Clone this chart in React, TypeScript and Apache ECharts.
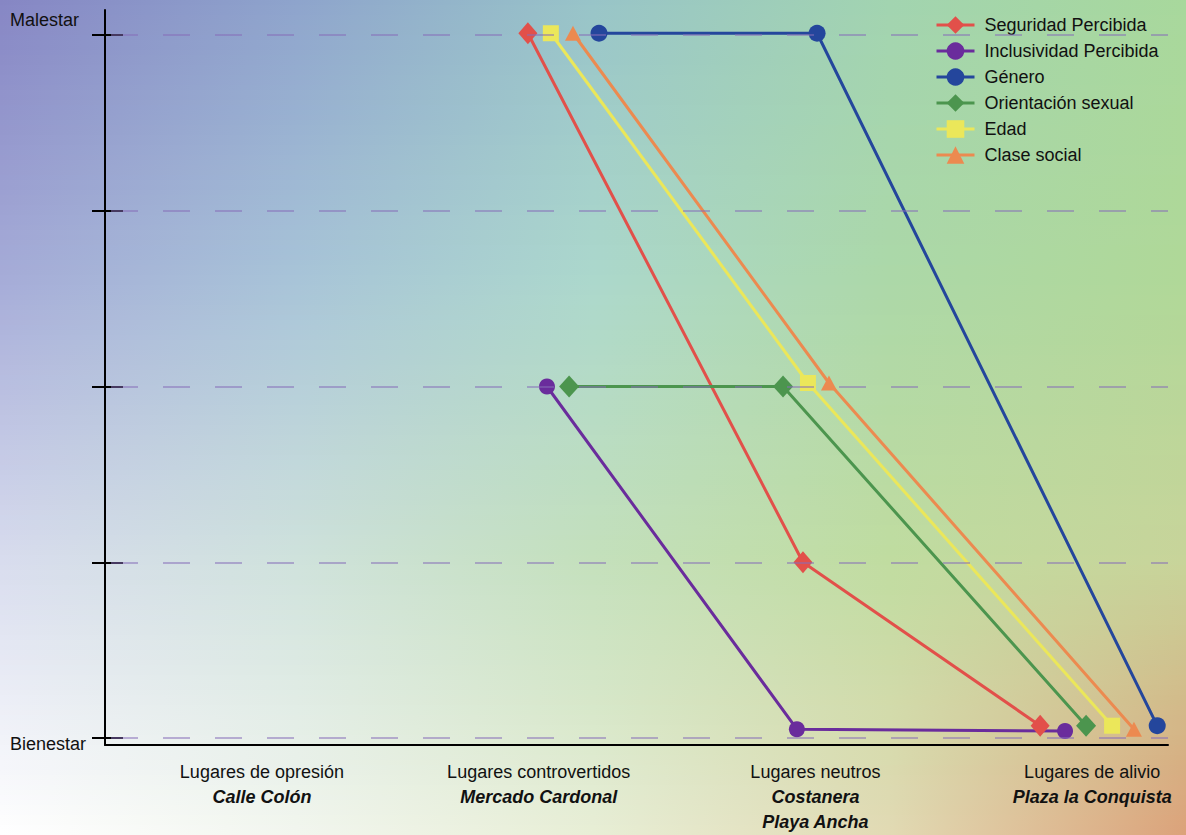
import React, { useEffect, useRef } from "react";
import * as echarts from "echarts";

// ---- data ----
const categories = ["Lugares de opresión", "Lugares controvertidos", "Lugares neutros", "Lugares de alivio"];
const places = [["Calle Colón"], ["Mercado Cardonal"], ["Costanera", "Playa Ancha"], ["Plaza la Conquista"]];
const yTickValues = [0, 1, 2, 3, 4];
const yLabelTop = "Malestar";
const yLabelBottom = "Bienestar";

const seriesNames = ["Seguridad Percibida", "Inclusividad Percibida", "Género", "Orientación sexual", "Edad", "Clase social"];
const seguridadX = [0.961, 1.955, 2.812];
const seguridadY = [4.01, 1, 0.07];
const inclusividadX = [1.03, 1.933, 2.902];
const inclusividadY = [2, 0.05, 0.04];
const generoX = [1.218, 2.006, 3.235];
const generoY = [4.01, 4.01, 0.07];
const orientacionX = [1.11, 1.883, 2.978];
const orientacionY = [2, 2, 0.07];
const edadX = [1.044, 1.973, 3.072];
const edadY = [4.01, 2.02, 0.07];
const claseX = [1.124, 2.049, 3.151];
const claseY = [4.01, 2.02, 0.05];

const FONT = '"Liberation Sans", Arial, Helvetica, sans-serif';

// background colour field (style only)
const bgRowsY = [0, 280, 560, 835];
const bgColsX = [0, 0.25, 0.5, 0.75, 1];
const bgGrid = [
  ["#8686c4", "#8ea4cc", "#98c4c8", "#a2d4b0", "#a8d89c"],
  ["#a6acd8", "#a8c4d8", "#acd8cc", "#acd8a8", "#b0d898"],
  ["#d8dcee", "#cfe2dc", "#c4e0bc", "#c0dca0", "#c8d49a"],
  ["#ffffff", "#f2f6ee", "#e8eed6", "#e2dab4", "#dca27a"],
];

function hex(c: string) {
  return [parseInt(c.slice(1, 3), 16), parseInt(c.slice(3, 5), 16), parseInt(c.slice(5, 7), 16)];
}
function mixRgb(a: number[], b: number[], t: number) {
  return a.map((v, i) => v + (b[i] - v) * t);
}

function buildBackground(W: number, H: number) {
  const els: any[] = [];
  const step = 5;
  for (let y = 0; y < H; y += step) {
    const cy = y + step / 2;
    let k = 0;
    while (k < bgRowsY.length - 2 && cy > bgRowsY[k + 1]) k++;
    const t = Math.min(1, Math.max(0, (cy - bgRowsY[k]) / (bgRowsY[k + 1] - bgRowsY[k])));
    const stops = bgColsX.map((off, i) => {
      const c = mixRgb(hex(bgGrid[k][i]), hex(bgGrid[k + 1][i]), t);
      return { offset: off, color: `rgb(${Math.round(c[0])},${Math.round(c[1])},${Math.round(c[2])})` };
    });
    els.push({
      type: "rect",
      silent: true,
      z: -10,
      shape: { x: 0, y, width: W, height: step + 1 },
      style: { fill: { type: "linear", x: 0, y: 0, x2: 1, y2: 0, colorStops: stops } },
    });
  }
  return els;
}

const colors = ["#e2504a", "#6a2c9c", "#24469c", "#4c954e", "#ebe75a", "#ec8a50"];

function pts(xs: number[], ys: number[]) {
  return xs.map((x, i) => [x, ys[i]]);
}

export default function App() {
  const ref = useRef<HTMLDivElement>(null);
  useEffect(() => {
    if (!ref.current) return;
    const chart = echarts.init(ref.current, undefined, { renderer: "svg" });
    const W = 1186, H = 835;

    const mk = (name: string, color: string, data: number[][], symbol: string, size: any) => ({
      name,
      type: "line",
      data,
      symbol,
      symbolSize: size,
      showAllSymbol: true,
      z: 3,
      lineStyle: { color, width: 3 },
      itemStyle: { color, opacity: 1 },
      emphasis: { disabled: true },
    });

    const option: any = {
      animation: false,
      textStyle: { fontFamily: FONT },
      graphic: { elements: buildBackground(W, H) },
      grid: { left: 105, right: 18, top: 10, bottom: 90, containLabel: false },
      legend: {
        data: seriesNames,
        orient: "vertical",
        left: 935,
        top: 14,
        padding: 0,
        itemWidth: 38,
        itemHeight: 22,
        itemGap: 4,
        selectedMode: false,
        lineStyle: { width: 3 },
        textStyle: { fontSize: 18, lineHeight: 22, color: "#111", fontFamily: FONT, padding: [0, 0, 0, 5] },
      },
      xAxis: {
        type: "value",
        min: -0.567,
        max: 3.274,
        axisLine: { show: true, onZero: false, lineStyle: { color: "#000", width: 2 } },
        axisTick: { show: false },
        splitLine: { show: false },
        axisLabel: {
          customValues: [0, 1, 2, 3],
          margin: 14,
          formatter: (v: number) => {
            const i = Math.round(v);
            return [`{a|${categories[i]}}`, ...places[i].map((p) => `{b|${p}}`)].join("\n");
          },
          rich: {
            a: { fontSize: 18, color: "#111", lineHeight: 25, fontFamily: FONT },
            b: { fontSize: 18, color: "#111", lineHeight: 25, fontWeight: "bold", fontStyle: "italic", fontFamily: FONT },
          },
        },
      },
      yAxis: [
        {
          type: "value",
          min: -0.0398,
          max: 4.1423,
          axisLine: { show: true, onZero: false, lineStyle: { color: "#000", width: 2 } },
          axisTick: { show: true, customValues: yTickValues, length: 13, lineStyle: { color: "#000", width: 2 } },
          splitLine: { show: false },
          axisLabel: {
            customValues: [4.085, -0.035],
            align: "left",
            margin: 95,
            fontSize: 18,
            color: "#111",
            fontFamily: FONT,
            formatter: (v: number) => (v > 2 ? yLabelTop : yLabelBottom),
          },
        },
        {
          type: "value",
          position: "left",
          min: -0.0398,
          max: 4.1423,
          axisLine: { show: false, onZero: false },
          axisTick: { show: true, inside: true, customValues: yTickValues, length: 18, lineStyle: { color: "#000", width: 2 } },
          splitLine: { show: false },
          axisLabel: { show: false },
        },
      ],
      series: [
        {
          name: "grid",
          type: "line",
          data: [],
          z: 1,
          silent: true,
          markLine: {
            silent: true,
            symbol: ["none", "none"],
            label: { show: false },
            emphasis: { disabled: true },
            lineStyle: { type: [27, 25], dashOffset: 46, color: "rgba(135,110,185,0.52)", width: 2 },
            data: yTickValues.map((v) => ({ yAxis: v })),
          },
        },
        mk(seriesNames[0], colors[0], pts(seguridadX, seguridadY), "diamond", [19, 22]),
        mk(seriesNames[1], colors[1], pts(inclusividadX, inclusividadY), "circle", 16),
        mk(seriesNames[2], colors[2], pts(generoX, generoY), "circle", 17),
        mk(seriesNames[3], colors[3], pts(orientacionX, orientacionY), "diamond", [20, 22]),
        mk(seriesNames[4], colors[4], pts(edadX, edadY), "rect", 16),
        mk(seriesNames[5], colors[5], pts(claseX, claseY), "triangle", [16, 15]),
      ],
    };
    chart.setOption(option);
    return () => chart.dispose();
  }, []);
  return <div ref={ref} style={{ position: "absolute", left: 0, top: 0, width: 1186, height: 835 }} />;
}
